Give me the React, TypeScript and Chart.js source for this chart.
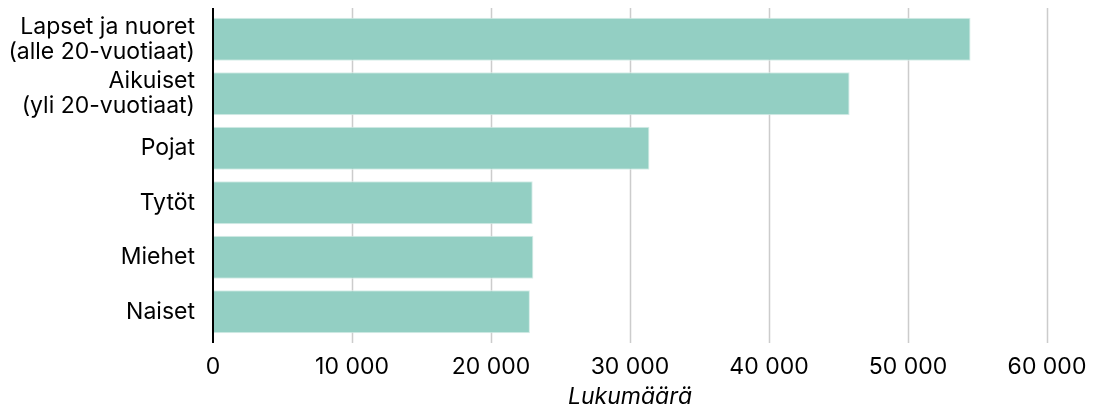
import React, { useEffect, useRef } from "react";
import { Chart, registerables } from "chart.js";

Chart.register(...registerables);

const categories: (string | string[])[] = [
  ["Lapset ja nuoret", "(alle 20-vuotiaat)"],
  ["Aikuiset", "(yli 20-vuotiaat)"],
  "Pojat",
  "Tytöt",
  "Miehet",
  "Naiset",
];
const values: number[] = [54500, 45800, 31400, 23000, 23050, 22800];
const xTicks: number[] = [0, 10000, 20000, 30000, 40000, 50000, 60000];
const axisTitle = "Lukumäärä";

const FONT = "Inter";
const FS = 23;

const fmt = (v: number) =>
  String(v).replace(/\B(?=(\d{3})+(?!\d))/g, "\u00a0");

const gridPlugin = {
  id: "customGrid",
  beforeDatasetsDraw(chart: any) {
    const { ctx, chartArea, scales } = chart;
    const x = scales.x;
    ctx.save();
    ctx.strokeStyle = "#cccccc";
    ctx.lineWidth = 1.5;
    for (const t of xTicks) {
      if (t === 0) continue;
      const px = Math.round(x.getPixelForValue(t)) + 0.5;
      ctx.beginPath();
      ctx.moveTo(px, chartArea.top - 4);
      ctx.lineTo(px, chartArea.bottom + 4);
      ctx.stroke();
    }
    ctx.restore();
  },
  afterDatasetsDraw(chart: any) {
    const { ctx, chartArea, scales } = chart;
    const px = Math.round(scales.x.getPixelForValue(0));
    ctx.save();
    ctx.strokeStyle = "#000000";
    ctx.lineWidth = 2;
    ctx.beginPath();
    ctx.moveTo(px, chartArea.top - 4);
    ctx.lineTo(px, chartArea.bottom + 4);
    ctx.stroke();
    ctx.restore();
  },
};

export default function App() {
  const ref = useRef<HTMLCanvasElement | null>(null);
  useEffect(() => {
    if (!ref.current) return;
    const chart = new Chart(ref.current, {
      type: "bar",
      data: {
        labels: categories,
        datasets: [
          {
            data: values,
            backgroundColor: "#93cfc3",
            borderColor: "#d6ede8",
            borderWidth: 1,
            barPercentage: 0.79,
            categoryPercentage: 1,
          },
        ],
      },
      options: {
        indexAxis: "y",
        animation: false,
        responsive: false,
        maintainAspectRatio: false,
        layout: { padding: { top: 12, right: 49, bottom: 0, left: 0 } },
        plugins: {
          legend: { display: false },
          tooltip: { enabled: false },
        },
        scales: {
          x: {
            min: 0,
            max: 60000,
            afterBuildTicks: (scale: any) => {
              scale.ticks = xTicks.map((v) => ({ value: v }));
            },
            afterFit: (scale: any) => {
              scale.height = 73;
              scale.paddingLeft = 0;
              scale.paddingRight = 0;
            },
            grid: { display: false, drawTicks: false },
            border: { display: false },
            ticks: {
              padding: 14,
              color: "#000",
              font: { family: FONT, size: FS },
              callback: (v: any) => fmt(Number(v)),
              maxRotation: 0,
              autoSkip: false,
            },
            title: {
              display: true,
              text: axisTitle,
              color: "#000",
              font: { family: FONT, size: FS, style: "italic", lineHeight: 1.2 },
              padding: { top: 0, bottom: 1 },
            },
          },
          y: {
            afterFit: (scale: any) => {
              scale.width = 213;
              scale.paddingTop = 0;
              scale.paddingBottom = 0;
            },
            grid: { display: false, drawTicks: false },
            border: { display: false },
            ticks: {
              padding: 18,
              color: "#000",
              font: { family: FONT, size: FS, lineHeight: 1.09 },
              autoSkip: false,
            },
          },
        },
      },
      plugins: [gridPlugin],
    });
    return () => chart.destroy();
  }, []);
  return (
    <div style={{ position: "fixed", left: 0, top: 0, width: 1096, height: 412, background: "#fff" }}>
      <canvas ref={ref} width={1096} height={412} style={{ width: 1096, height: 412 }} />
    </div>
  );
}
